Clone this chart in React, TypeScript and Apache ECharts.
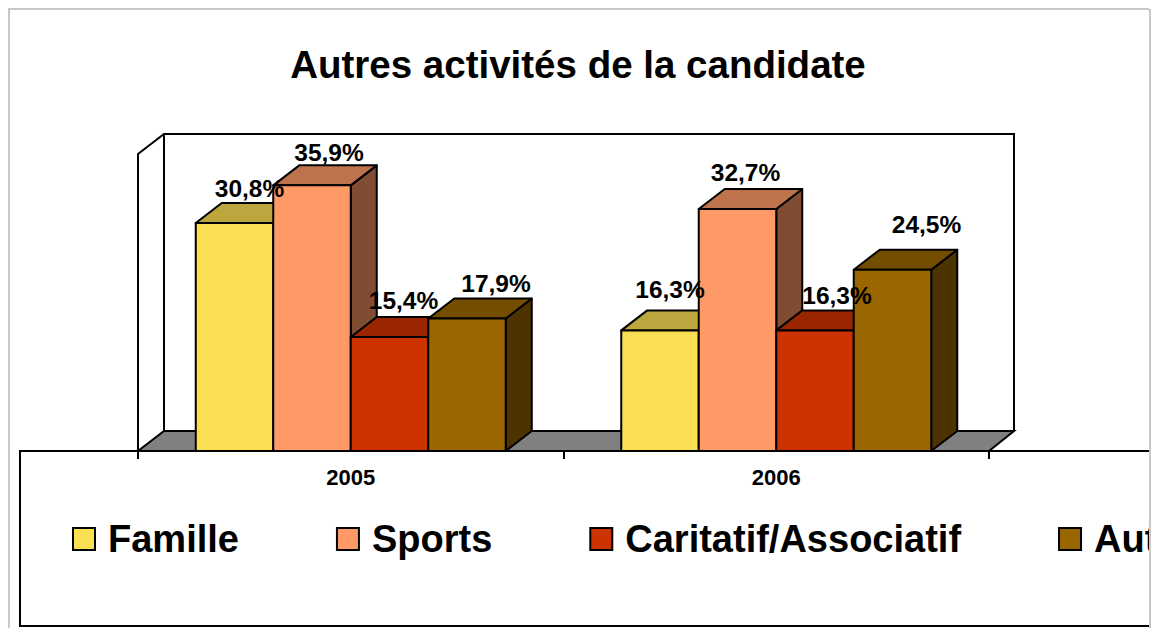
import React, { useEffect, useRef } from "react";
import * as echarts from "echarts";

const title = "Autres activités de la candidate";
const years = ["2005", "2006"];
const seriesNames = ["Famille", "Sports", "Caritatif/Associatif", "Autres"];
const famille = [30.8, 16.3];
const sports = [35.9, 32.7];
const caritatif = [15.4, 16.3];
const autres = [17.9, 24.5];
const allValues = [famille, sports, caritatif, autres];

const frontColors = ["#FADF52", "#FF9966", "#CC3300", "#996600"];
const topColors = ["#BBA73D", "#BF734C", "#992600", "#734D00"];
const sideColors = ["#7D7029", "#804D33", "#661A00", "#4D3300"];

// label displacement from the bar's top centre [dx, dy], per series and year
const labelOffsets = [
  [[15, -35], [10, -41]],
  [[17, -33], [8, -37]],
  [[14, -37], [22, -35]],
  [[29, -35], [34, -45]],
];

const FONT = '"Liberation Sans", Arial, sans-serif';
const BAR_W = 77.5;
const DX = 26;
const DY = -20;

function barRenderer(si: number) {
  return (_p: any, api: any) => {
    const cat = api.value(0);
    const val = api.value(1);
    const base = api.coord([cat, 0]);
    const top = api.coord([cat, val]);
    const x0 = base[0] + (si - 2) * BAR_W;
    const x1 = x0 + BAR_W;
    const yb = base[1];
    const yt = top[1];
    const line = { stroke: "#000", lineWidth: 2, lineJoin: "round" };
    return {
      type: "group",
      children: [
        {
          type: "polygon",
          shape: { points: [[x1, yt], [x1 + DX, yt + DY], [x1 + DX, yb + DY], [x1, yb]] },
          style: { fill: sideColors[si], ...line },
        },
        {
          type: "polygon",
          shape: { points: [[x0, yt], [x0 + DX, yt + DY], [x1 + DX, yt + DY], [x1, yt]] },
          style: { fill: topColors[si], ...line },
        },
        {
          type: "rect",
          shape: { x: x0, y: yt, width: BAR_W, height: yb - yt },
          style: { fill: frontColors[si], ...line },
        },
      ],
    };
  };
}

function labelRenderer(_p: any, api: any) {
  const si = api.value(0);
  const cat = api.value(1);
  const val = api.value(2);
  const top = api.coord([cat, val]);
  const off = labelOffsets[si][cat];
  return {
    type: "text",
    x: top[0] + (si - 1.5) * BAR_W + off[0],
    y: top[1] + off[1],
    style: {
      text: val.toFixed(1).replace(".", ",") + "%",
      font: `bold 24.5px ${FONT}`,
      fill: "#000",
      align: "center",
      verticalAlign: "middle",
    },
  };
}

const labelData: number[][] = [];
allValues.forEach((vals, si) => vals.forEach((v, ci) => labelData.push([si, ci, v])));

export default function App() {
  const ref = useRef<HTMLDivElement>(null);
  useEffect(() => {
    const chart = echarts.init(ref.current!, undefined, { renderer: "svg" });
    const wall = { stroke: "#000", lineWidth: 2, fill: "none" };
    chart.setOption({
      animation: false,
      backgroundColor: "#fff",
      title: {
        text: title,
        left: 573,
        top: 40,
        textAlign: "center",
        textStyle: { fontFamily: FONT, fontWeight: "bold", fontSize: 38.5, color: "#000" },
      },
      grid: { left: 138, right: 163, top: 155, bottom: 177 },
      xAxis: {
        type: "category",
        data: years,
        axisLine: { show: true, lineStyle: { color: "#000", width: 2 } },
        axisTick: { show: true, alignWithLabel: false, length: 8, lineStyle: { color: "#000", width: 2 } },
        axisLabel: { fontFamily: FONT, fontWeight: "bold", fontSize: 22, color: "#000", margin: 15 },
        z: 5,
      },
      yAxis: { type: "value", min: 0, max: 40, show: false },
      legend: {
        left: 72,
        top: 520,
        width: 1500,
        padding: 0,
        itemWidth: 22,
        itemHeight: 22,
        itemGap: 97,
        icon: "rect",
        selectedMode: false,
        textStyle: { fontFamily: FONT, fontWeight: "bold", fontSize: 38, color: "#000", padding: [0, 0, 0, 8] },
        itemStyle: { borderColor: "#000", borderWidth: 2 },
        data: seriesNames,
      },
      graphic: {
        elements: [
          // outer frame
          { type: "rect", z: -10, shape: { x: 9, y: 9, width: 1141, height: 640 }, style: { fill: "#fff", stroke: "#c8c8c8", lineWidth: 2 } },
          // plot floor and walls
          { type: "polygon", z: -5, shape: { points: [[138, 451], [164, 431], [1014, 431], [989, 451]] }, style: { fill: "#808080", stroke: "#000", lineWidth: 2 } },
          { type: "polyline", z: -5, shape: { points: [[138, 451], [138, 154], [164, 134], [1014, 134], [1014, 431]] }, style: wall },
          { type: "polyline", z: -5, shape: { points: [[164, 134], [164, 431]] }, style: wall },
          // legend box
          { type: "rect", z: -4, shape: { x: 20, y: 451, width: 1200, height: 175 }, style: { fill: "#fff", stroke: "#000", lineWidth: 2 } },
          // right frame edge, which crops the legend
          { type: "rect", z: 100, shape: { x: 1149, y: 0, width: 3, height: 628 }, style: { fill: "#fff" } },
          { type: "rect", z: 101, shape: { x: 1149, y: 9, width: 2, height: 619 }, style: { fill: "#c8c8c8" } },
        ],
      },
      series: [
        ...seriesNames.map((name, si) => ({
          type: "custom",
          name,
          z: 3,
          coordinateSystem: "cartesian2d",
          itemStyle: { color: frontColors[si] },
          encode: { x: 0, y: 1 },
          renderItem: barRenderer(si),
          data: allValues[si].map((v, ci) => [ci, v]),
        })),
        {
          type: "custom",
          name: "labels",
          z: 10,
          coordinateSystem: "cartesian2d",
          encode: { x: 1, y: 2 },
          renderItem: labelRenderer,
          data: labelData,
        },
      ],
    });
    return () => chart.dispose();
  }, []);
  return <div ref={ref} style={{ position: "fixed", left: 0, top: 0, width: 1152, height: 628 }} />;
}
